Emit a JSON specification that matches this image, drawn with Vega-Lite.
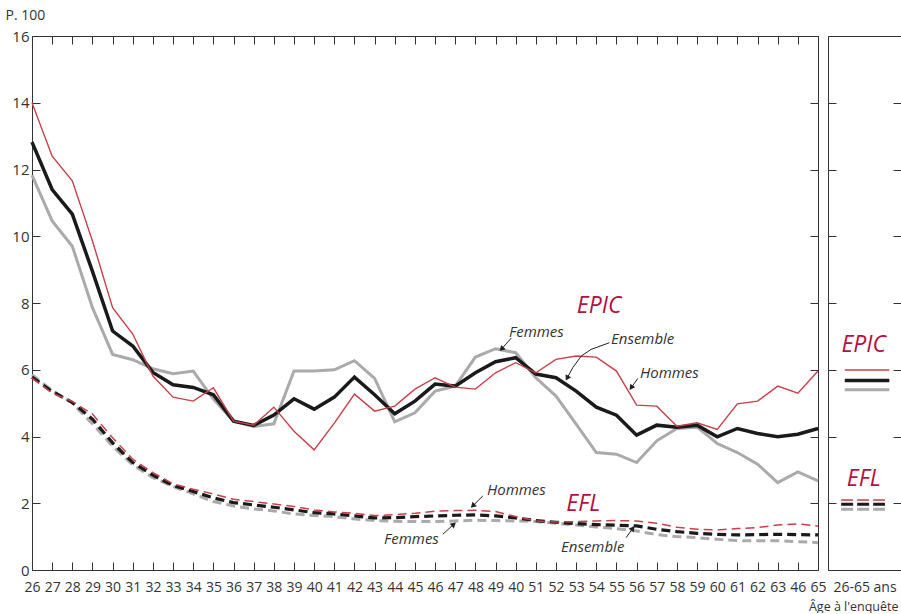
{
  "$schema": "https://vega.github.io/schema/vega-lite/v6.json",
  "autosize": {"type": "pad"},
  "padding": {"left": 4, "top": 7, "right": 0, "bottom": 0},
  "background": "white",
  "bounds": "flush",
  "spacing": 10,
  "config": {
    "font": "Open Sans",
    "view": {"stroke": "#333", "strokeWidth": 1},
    "axis": {"grid": false, "domain": false, "labelColor": "#333", "tickColor": "#333", "tickWidth": 1, "labelFont": "Open Sans", "titleFont": "Open Sans"}
  },
  "datasets": {
    "epic": [
      {"age":26,"H":14.0,"E":12.82,"F":11.83},
      {"age":27,"H":12.4,"E":11.4,"F":10.46},
      {"age":28,"H":11.66,"E":10.66,"F":9.7},
      {"age":29,"H":9.86,"E":8.95,"F":7.86},
      {"age":30,"H":7.86,"E":7.16,"F":6.46},
      {"age":31,"H":7.07,"E":6.71,"F":6.3},
      {"age":32,"H":5.81,"E":5.92,"F":6.03},
      {"age":33,"H":5.18,"E":5.55,"F":5.88},
      {"age":34,"H":5.06,"E":5.47,"F":5.96},
      {"age":35,"H":5.46,"E":5.25,"F":5.12},
      {"age":36,"H":4.46,"E":4.46,"F":4.46},
      {"age":37,"H":4.34,"E":4.33,"F":4.3},
      {"age":38,"H":4.88,"E":4.64,"F":4.38},
      {"age":39,"H":4.16,"E":5.13,"F":5.96},
      {"age":40,"H":3.6,"E":4.82,"F":5.96},
      {"age":41,"H":4.4,"E":5.18,"F":6.0},
      {"age":42,"H":5.27,"E":5.78,"F":6.27},
      {"age":43,"H":4.76,"E":5.25,"F":5.74},
      {"age":44,"H":4.91,"E":4.68,"F":4.44},
      {"age":45,"H":5.42,"E":5.06,"F":4.71},
      {"age":46,"H":5.76,"E":5.57,"F":5.36},
      {"age":47,"H":5.48,"E":5.51,"F":5.51},
      {"age":48,"H":5.42,"E":5.91,"F":6.38},
      {"age":49,"H":5.91,"E":6.24,"F":6.63},
      {"age":50,"H":6.21,"E":6.36,"F":6.51},
      {"age":51,"H":5.91,"E":5.87,"F":5.76},
      {"age":52,"H":6.31,"E":5.76,"F":5.21},
      {"age":53,"H":6.41,"E":5.36,"F":4.37},
      {"age":54,"H":6.38,"E":4.88,"F":3.52},
      {"age":55,"H":5.96,"E":4.64,"F":3.47},
      {"age":56,"H":4.94,"E":4.04,"F":3.22},
      {"age":57,"H":4.91,"E":4.34,"F":3.87},
      {"age":58,"H":4.31,"E":4.28,"F":4.24},
      {"age":59,"H":4.41,"E":4.34,"F":4.28},
      {"age":60,"H":4.21,"E":3.99,"F":3.79},
      {"age":61,"H":4.98,"E":4.24,"F":3.52},
      {"age":62,"H":5.06,"E":4.09,"F":3.17},
      {"age":63,"H":5.51,"E":3.99,"F":2.62},
      {"age":64,"H":5.3,"E":4.07,"F":2.94},
      {"age":65,"H":5.96,"E":4.24,"F":2.67}
    ],
    "efl": [
      {"age":26,"H":5.75,"E":5.78,"F":5.85},
      {"age":27,"H":5.3,"E":5.35,"F":5.38},
      {"age":28,"H":5.05,"E":5.02,"F":5.0},
      {"age":29,"H":4.67,"E":4.52,"F":4.38},
      {"age":30,"H":3.96,"E":3.81,"F":3.71},
      {"age":31,"H":3.32,"E":3.22,"F":3.15},
      {"age":32,"H":2.92,"E":2.84,"F":2.77},
      {"age":33,"H":2.58,"E":2.53,"F":2.5},
      {"age":34,"H":2.42,"E":2.35,"F":2.28},
      {"age":35,"H":2.28,"E":2.16,"F":2.05},
      {"age":36,"H":2.12,"E":2.02,"F":1.92},
      {"age":37,"H":2.05,"E":1.95,"F":1.83},
      {"age":38,"H":1.98,"E":1.88,"F":1.77},
      {"age":39,"H":1.9,"E":1.8,"F":1.68},
      {"age":40,"H":1.8,"E":1.72,"F":1.63},
      {"age":41,"H":1.74,"E":1.68,"F":1.6},
      {"age":42,"H":1.7,"E":1.62,"F":1.53},
      {"age":43,"H":1.63,"E":1.56,"F":1.48},
      {"age":44,"H":1.66,"E":1.57,"F":1.46},
      {"age":45,"H":1.7,"E":1.6,"F":1.45},
      {"age":46,"H":1.76,"E":1.62,"F":1.45},
      {"age":47,"H":1.78,"E":1.64,"F":1.47},
      {"age":48,"H":1.79,"E":1.65,"F":1.49},
      {"age":49,"H":1.75,"E":1.62,"F":1.48},
      {"age":50,"H":1.6,"E":1.56,"F":1.47},
      {"age":51,"H":1.47,"E":1.48,"F":1.45},
      {"age":52,"H":1.44,"E":1.43,"F":1.4},
      {"age":53,"H":1.45,"E":1.39,"F":1.35},
      {"age":54,"H":1.47,"E":1.36,"F":1.29},
      {"age":55,"H":1.48,"E":1.34,"F":1.24},
      {"age":56,"H":1.47,"E":1.32,"F":1.17},
      {"age":57,"H":1.4,"E":1.22,"F":1.06},
      {"age":58,"H":1.28,"E":1.15,"F":1.0},
      {"age":59,"H":1.22,"E":1.1,"F":0.97},
      {"age":60,"H":1.2,"E":1.07,"F":0.92},
      {"age":61,"H":1.24,"E":1.05,"F":0.88},
      {"age":62,"H":1.27,"E":1.06,"F":0.88},
      {"age":63,"H":1.35,"E":1.07,"F":0.88},
      {"age":64,"H":1.38,"E":1.06,"F":0.85},
      {"age":65,"H":1.32,"E":1.05,"F":0.82}
    ],
    "notes": [
      {"age":49.67,"v":7.13,"t":"Femmes"},
      {"age":54.73,"v":6.92,"t":"Ensemble"},
      {"age":56.17,"v":5.9,"t":"Hommes"},
      {"age":48.58,"v":2.4,"t":"Hommes"},
      {"age":43.47,"v":0.93,"t":"Femmes"},
      {"age":52.25,"v":0.69,"t":"Ensemble"}
    ],
    "big": [
      {"age":54.14,"v":7.91,"t":"EPIC"},
      {"age":53.35,"v":1.98,"t":"EFL"}
    ],
    "arrows": [
      {"id":"a","o":0,"age":49.78,"v":6.95},
      {"id":"a","o":1,"age":49.3,"v":6.62},
      {"id":"b","o":0,"age":54.65,"v":6.81},
      {"id":"b","o":1,"age":53.74,"v":6.61},
      {"id":"b","o":2,"age":53.25,"v":6.41},
      {"id":"b","o":3,"age":52.83,"v":6.06},
      {"id":"b","o":4,"age":52.55,"v":5.75},
      {"id":"c","o":0,"age":56.06,"v":5.74},
      {"id":"c","o":1,"age":55.73,"v":5.46},
      {"id":"d","o":0,"age":48.37,"v":2.22},
      {"id":"d","o":1,"age":47.87,"v":1.92},
      {"id":"e","o":0,"age":46.38,"v":1.07},
      {"id":"e","o":1,"age":46.93,"v":1.37},
      {"id":"f","o":0,"age":55.48,"v":0.97},
      {"id":"f","o":1,"age":55.81,"v":1.25}
    ],
    "heads": [
      {"age":49.3,"v":6.62,"a":222},
      {"age":52.55,"v":5.75,"a":208},
      {"age":55.73,"v":5.46,"a":215},
      {"age":47.87,"v":1.92,"a":225},
      {"age":46.93,"v":1.37,"a":48},
      {"age":55.81,"v":1.25,"a":35}
    ],
    "avg": [
      {"span":"26-65 ans","serie":"EPIC","H":5.99,"E":5.68,"F":5.4},
      {"span":"26-65 ans","serie":"EFL","H":2.1,"E":1.97,"F":1.82}
    ],
    "avglab": [
      {"t":"EPIC","v":6.74},
      {"t":"EFL","v":2.72}
    ]
  },
  "hconcat": [
    {
      "width": 786,
      "height": 534,
      "layer": [
        {
          "data": {"name": "epic"},
          "mark": {"type": "point", "opacity": 0},
          "encoding": {
            "x": {"field": "age", "type": "quantitative", "scale": {"domain": [26, 65], "nice": false, "zero": false},
              "axis": {"orient": "top", "values": [26,27,28,29,30,31,32,33,34,35,36,37,38,39,40,41,42,43,44,45,46,47,48,49,50,51,52,53,54,55,56,57,58,59,60,61,62,63,64,65], "labels": false, "tickSize": -8, "title": null}},
            "y": {"field": "E", "type": "quantitative", "scale": {"domain": [0, 16], "nice": false},
              "axis": {"orient": "right", "values": [0,2,4,6,8,10,12,14,16], "labels": false, "tickSize": -8, "title": null}}
          }
        },
        {
          "data": {"name": "epic"},
          "mark": {"type": "line", "color": "#aaaaaa", "strokeWidth": 3},
          "encoding": {
            "x": {"field": "age", "type": "quantitative", "scale": {"domain": [26, 65], "nice": false, "zero": false},
              "axis": {"orient": "bottom", "values": [26,27,28,29,30,31,32,33,34,35,36,37,38,39,40,41,42,43,44,45,46,47,48,49,50,51,52,53,54,55,56,57,58,59,60,61,62,63,64,65], "tickSize": -8, "labelPadding": 18, "labelFontSize": 14, "labelFlush": false, "labelOverlap": false, "labelExpr": "datum.value == 50 ? '40' : datum.value == 64 ? '46' : datum.label", "title": null}},
            "y": {"field": "F", "type": "quantitative", "scale": {"domain": [0, 16], "nice": false},
              "axis": {"orient": "left", "values": [0,2,4,6,8,10,12,14,16], "tickSize": -8, "labelPadding": 11, "labelFontSize": 15, "title": "P. 100", "titleAngle": 0, "titleAlign": "left", "titleBaseline": "middle", "titleX": -27, "titleY": -21, "titleFontSize": 14, "titleFontWeight": "normal", "titleColor": "#333"}}
          }
        },
        {
          "data": {"name": "epic"},
          "mark": {"type": "line", "color": "#1a1a1a", "strokeWidth": 3.5},
          "encoding": {
            "x": {"field": "age", "type": "quantitative", "axis": null},
            "y": {"field": "E", "type": "quantitative", "axis": null}
          }
        },
        {
          "data": {"name": "epic"},
          "mark": {"type": "line", "color": "#c8404a", "strokeWidth": 1.4},
          "encoding": {
            "x": {"field": "age", "type": "quantitative", "axis": null},
            "y": {"field": "H", "type": "quantitative", "axis": null}
          }
        },
        {
          "data": {"name": "efl"},
          "mark": {"type": "line", "color": "#aaaaaa", "strokeWidth": 3, "strokeDash": [9, 5]},
          "encoding": {
            "x": {"field": "age", "type": "quantitative", "axis": null},
            "y": {"field": "F", "type": "quantitative", "axis": null}
          }
        },
        {
          "data": {"name": "efl"},
          "mark": {"type": "line", "color": "#1a1a1a", "strokeWidth": 3.2, "strokeDash": [9, 5]},
          "encoding": {
            "x": {"field": "age", "type": "quantitative", "axis": null},
            "y": {"field": "E", "type": "quantitative", "axis": null}
          }
        },
        {
          "data": {"name": "efl"},
          "mark": {"type": "line", "color": "#c8404a", "strokeWidth": 1.5, "strokeDash": [9, 5]},
          "encoding": {
            "x": {"field": "age", "type": "quantitative", "axis": null},
            "y": {"field": "H", "type": "quantitative", "axis": null}
          }
        },
        {
          "data": {"name": "arrows"},
          "mark": {"type": "line", "color": "#222", "strokeWidth": 1},
          "encoding": {
            "x": {"field": "age", "type": "quantitative", "axis": null},
            "y": {"field": "v", "type": "quantitative", "axis": null},
            "detail": {"field": "id"},
            "order": {"field": "o", "type": "quantitative"}
          }
        },
        {
          "data": {"name": "heads"},
          "mark": {"type": "point", "shape": "triangle-up", "filled": true, "color": "#222", "size": 40, "opacity": 1},
          "encoding": {
            "x": {"field": "age", "type": "quantitative", "axis": null},
            "y": {"field": "v", "type": "quantitative", "axis": null},
            "angle": {"field": "a", "type": "quantitative", "scale": null}
          }
        },
        {
          "data": {"name": "notes"},
          "mark": {"type": "text", "align": "left", "baseline": "middle", "fontSize": 15, "fontStyle": "italic", "color": "#333"},
          "encoding": {
            "x": {"field": "age", "type": "quantitative", "axis": null},
            "y": {"field": "v", "type": "quantitative", "axis": null},
            "text": {"field": "t"}
          }
        },
        {
          "data": {"name": "big"},
          "mark": {"type": "text", "align": "center", "baseline": "middle", "fontSize": 23, "fontStyle": "italic", "color": "#b5103f"},
          "encoding": {
            "x": {"field": "age", "type": "quantitative", "axis": null},
            "y": {"field": "v", "type": "quantitative", "axis": null},
            "text": {"field": "t"}
          }
        }
      ]
    },
    {
      "width": 73,
      "height": 534,
      "data": {"name": "avg"},
      "resolve": {"scale": {"x": "independent"}},
      "layer": [
        {
          "mark": {"type": "point", "opacity": 0},
          "encoding": {
            "x": {"field": "span", "type": "nominal",
              "axis": {"orient": "bottom", "ticks": false, "tickSize": 0, "labelPadding": 10, "labelFontSize": 14, "labelAngle": 0, "title": "Âge à l'enquête", "titleAnchor": "end", "titleAlign": "right", "titleBaseline": "middle", "titleX": 70, "titleY": 36, "titleFontSize": 12.5, "titleFontWeight": "normal", "titleColor": "#333"}},
            "y": {"field": "F", "type": "quantitative", "scale": {"domain": [0, 16], "nice": false},
              "axis": {"orient": "left", "values": [0,2,4,6,8,10,12,14,16], "labels": false, "tickSize": -8, "title": null}}
          }
        },
        {
          "transform": [{"filter": "datum.serie == 'EPIC'"}],
          "mark": {"type": "rule", "color": "#aaaaaa", "strokeWidth": 3},
          "encoding": {
            "x": {"datum": 0.23, "type": "quantitative", "scale": {"domain": [0, 1], "nice": false, "zero": false}, "axis": null},
            "x2": {"datum": 0.84},
            "y": {"field": "F", "type": "quantitative",
              "axis": {"orient": "right", "values": [0,2,4,6,8,10,12,14,16], "labels": false, "tickSize": -8, "title": null}}
          }
        },
        {
          "transform": [{"filter": "datum.serie == 'EPIC'"}],
          "mark": {"type": "rule", "color": "#1a1a1a", "strokeWidth": 3.5},
          "encoding": {
            "x": {"datum": 0.23, "type": "quantitative", "scale": {"domain": [0, 1], "nice": false, "zero": false}, "axis": null},
            "x2": {"datum": 0.84},
            "y": {"field": "E", "type": "quantitative", "axis": null}
          }
        },
        {
          "transform": [{"filter": "datum.serie == 'EPIC'"}],
          "mark": {"type": "rule", "color": "#c8404a", "strokeWidth": 1.5},
          "encoding": {
            "x": {"datum": 0.23, "type": "quantitative", "scale": {"domain": [0, 1], "nice": false, "zero": false}, "axis": null},
            "x2": {"datum": 0.84},
            "y": {"field": "H", "type": "quantitative", "axis": null}
          }
        },
        {
          "transform": [{"filter": "datum.serie == 'EFL'"}],
          "mark": {"type": "rule", "color": "#aaaaaa", "strokeWidth": 3, "strokeDash": [12, 4]},
          "encoding": {
            "x": {"datum": 0.18, "type": "quantitative", "scale": {"domain": [0, 1], "nice": false, "zero": false}, "axis": null},
            "x2": {"datum": 0.78},
            "y": {"field": "F", "type": "quantitative", "axis": null}
          }
        },
        {
          "transform": [{"filter": "datum.serie == 'EFL'"}],
          "mark": {"type": "rule", "color": "#1a1a1a", "strokeWidth": 3.2, "strokeDash": [12, 4]},
          "encoding": {
            "x": {"datum": 0.18, "type": "quantitative", "scale": {"domain": [0, 1], "nice": false, "zero": false}, "axis": null},
            "x2": {"datum": 0.78},
            "y": {"field": "E", "type": "quantitative", "axis": null}
          }
        },
        {
          "transform": [{"filter": "datum.serie == 'EFL'"}],
          "mark": {"type": "rule", "color": "#c8404a", "strokeWidth": 1.5, "strokeDash": [12, 4]},
          "encoding": {
            "x": {"datum": 0.18, "type": "quantitative", "scale": {"domain": [0, 1], "nice": false, "zero": false}, "axis": null},
            "x2": {"datum": 0.78},
            "y": {"field": "H", "type": "quantitative", "axis": null}
          }
        },
        {
          "data": {"name": "avglab"},
          "mark": {"type": "text", "align": "center", "baseline": "middle", "fontSize": 23, "fontStyle": "italic", "color": "#b5103f"},
          "encoding": {
            "x": {"datum": 0.49, "type": "quantitative", "scale": {"domain": [0, 1], "nice": false, "zero": false}, "axis": null},
            "y": {"field": "v", "type": "quantitative", "axis": null},
            "text": {"field": "t"}
          }
        }
      ]
    }
  ]
}
